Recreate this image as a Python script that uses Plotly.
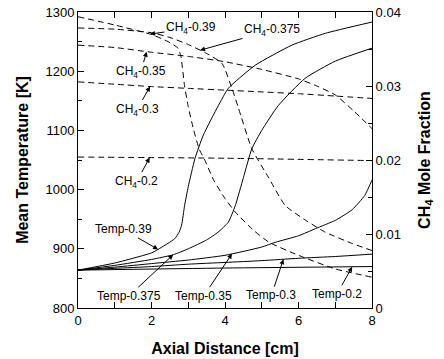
import numpy as np
import plotly.graph_objects as go

# ---- Temperature series (left axis, K) ----
t39_x = [0, 1, 2, 2.18, 2.63, 2.75, 2.82, 2.9, 3.0, 3.18, 3.41, 3.82, 4.09, 4.82, 5.82, 6.73, 8]
t39_y = [864, 876, 893, 899, 917, 928, 940, 973, 1005, 1052, 1092, 1142, 1171, 1210, 1244, 1264, 1283]

t375_x = [0, 1, 2, 2.59, 3, 3.5, 3.81, 4.09, 4.28, 4.5, 4.73, 5.0, 5.45, 6.18, 7.0, 8]
t375_y = [864, 872, 882, 890, 900, 915, 928, 945, 973, 1020, 1069, 1100, 1142, 1188, 1217, 1239]

t35_x = [0, 1, 2, 3, 4, 5, 5.37, 6, 6.46, 7, 7.46, 7.8, 8]
t35_y = [864, 869, 875, 881, 889, 903, 911, 922, 934, 948, 966, 990, 1016]

t30_x = [0, 1, 2, 3, 4, 5, 6, 7, 8]
t30_y = [864, 867, 870, 874, 877, 880, 884, 887, 891]

t20_x = [0, 4, 8]
t20_y = [864, 867.5, 870]

# ---- CH4 mole fraction series (right axis) ----
c39_x = [0, 1, 2, 2.45, 2.72, 2.8, 2.9, 3.0, 3.15, 3.3, 3.45, 3.7, 4.0, 4.28, 4.8, 5.2, 6.0, 7.0, 8.0]
c39_y = [0.03936, 0.03824, 0.03696, 0.0360, 0.03512, 0.0340, 0.0300, 0.0272, 0.0240, 0.02144,
         0.0200, 0.0172, 0.0148, 0.01296, 0.0104, 0.00888, 0.00712, 0.00528, 0.00416]

c375_x = [0, 1, 2, 2.5, 3, 3.5, 3.92, 4.19, 4.37, 4.73, 5.18, 5.64, 6.2, 6.73, 7.46, 8]
c375_y = [0.03784, 0.03768, 0.0372, 0.03656, 0.0356, 0.0344, 0.03304, 0.02968, 0.02696, 0.02152,
          0.01768, 0.01384, 0.01184, 0.01024, 0.00872, 0.00776]

c35_x = [0, 1, 2, 3, 4, 5, 6, 6.5, 7, 7.5, 8]
c35_y = [0.03552, 0.0352, 0.03456, 0.0340, 0.03328, 0.03224, 0.03096, 0.0300, 0.0288, 0.02664, 0.02424]

c30_x = [0, 1, 2, 3, 4, 5, 6, 7, 8]
c30_y = [0.03056, 0.03024, 0.02992, 0.02968, 0.02944, 0.0292, 0.02896, 0.02864, 0.02832]

c20_x = [0, 4, 8]
c20_y = [0.0204, 0.02024, 0.01992]

# ---- labels: (text, series, tip x, text offset ax, ay) ----
labels = [
    ("CH<sub>4</sub>-0.39", "c39", 1.96, 41, -6),
    ("CH<sub>4</sub>-0.375", "c375", 3.32, 72, -20),
    ("CH<sub>4</sub>-0.35", "c35", 1.87, -6, 20),
    ("CH<sub>4</sub>-0.3", "c30", 1.96, -13, 23),
    ("CH<sub>4</sub>-0.2", "c20", 1.95, -13, 24),
    ("Temp-0.39", "t39", 2.18, -35, -20),
    ("Temp-0.375", "t375", 2.59, -44, 41),
    ("Temp-0.35", "t35", 4.19, -28, 42),
    ("Temp-0.3", "t30", 5.59, -12, 36),
    ("Temp-0.2", "t20", 7.46, -15, 27),
]

series = {
    "t39": (t39_x, t39_y, "y"), "t375": (t375_x, t375_y, "y"), "t35": (t35_x, t35_y, "y"),
    "t30": (t30_x, t30_y, "y"), "t20": (t20_x, t20_y, "y"),
    "c39": (c39_x, c39_y, "y2"), "c375": (c375_x, c375_y, "y2"), "c35": (c35_x, c35_y, "y2"),
    "c30": (c30_x, c30_y, "y2"), "c20": (c20_x, c20_y, "y2"),
}

FONT = "Arial, 'Liberation Sans', sans-serif"
fig = go.Figure()
for key, (xs, ys, ax_) in series.items():
    dashed = key.startswith("c")
    fig.add_trace(go.Scatter(
        x=xs, y=ys, mode="lines", yaxis=ax_, showlegend=False,
        line=dict(color="black", width=1, dash="6px,4px" if dashed else "solid",
                  shape="spline", smoothing=0.5),
    ))

for text, key, xt, dx, dy in labels:
    xs, ys, ax_ = series[key]
    yt = float(np.interp(xt, xs, ys))
    fig.add_annotation(
        x=xt, y=yt, xref="x", yref=ax_, text=text, showarrow=True,
        ax=dx, ay=dy, axref="pixel", ayref="pixel",
        arrowhead=2, arrowsize=1, arrowwidth=1, arrowcolor="black",
        font=dict(family=FONT, size=12, color="black"),
    )

axis_common = dict(
    showline=True, linecolor="black", linewidth=1, showgrid=False, zeroline=False,
    ticks="inside", ticklen=6, tickcolor="black", tickwidth=1, automargin=False,
    tickfont=dict(family=FONT, size=13, color="black"),
)

fig.update_layout(
    width=444, height=359, autosize=False,
    margin=dict(l=78, r=72, t=12, b=51, pad=0),
    paper_bgcolor="white", plot_bgcolor="white",
    xaxis=dict(range=[0, 8], dtick=2, tick0=0, mirror="allticks",
               minor=dict(dtick=1, ticks="inside", ticklen=4, tickcolor="black"),
               title=dict(text="<b>Axial Distance [cm]</b>", font=dict(family=FONT, size=16, color="black"),
                          standoff=16),
               **axis_common),
    yaxis=dict(range=[800, 1300], dtick=100, tick0=800, mirror=True,
               minor=dict(dtick=50, ticks="inside", ticklen=4, tickcolor="black"),
               title=dict(text="<b>Mean Temperature [K]</b>", font=dict(family=FONT, size=16, color="black"),
                          standoff=12),
               **axis_common),
    yaxis2=dict(range=[0, 0.04], dtick=0.01, tick0=0, overlaying="y", side="right",
                minor=dict(dtick=0.005, ticks="inside", ticklen=4, tickcolor="black"),
                title=dict(text="<b>CH<sub>4</sub> Mole Fraction</b>", font=dict(family=FONT, size=16, color="black"),
                           standoff=18),
                **axis_common),
)

fig.write_html("out.html")
